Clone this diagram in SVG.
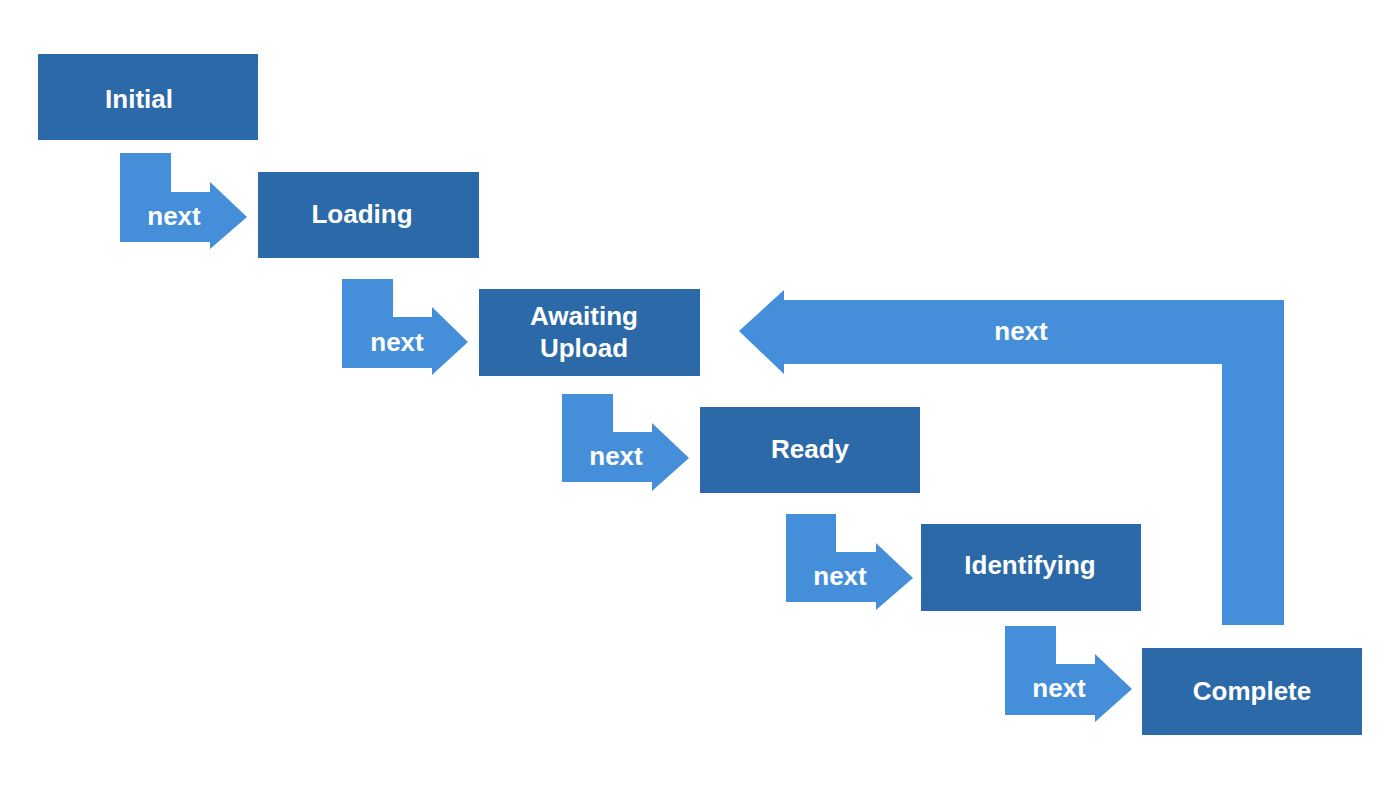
<svg xmlns="http://www.w3.org/2000/svg" width="1400" height="788" viewBox="0 0 1400 788">
<style>
.box{fill:#2B69A8}
.arr{fill:#448EDA}
.t{font-family:"Liberation Sans",Arial,sans-serif;font-weight:bold;font-size:26px;fill:#FFFFFF;text-anchor:middle}
</style>
<rect width="1400" height="788" fill="#FFFFFF"/>
<g id="connectors">
<g id="c1"><polygon class="arr" points="120,153 171,153 171,192 210,192 210,182 247,217 210,249 210,242 120,242"/><text class="t" x="174" y="225">next</text></g>
<g id="c2"><polygon class="arr" points="342,279 393,279 393,317 432,317 432,307 468,342 432,375 432,368 342,368"/><text class="t" x="397" y="351">next</text></g>
<g id="c3"><polygon class="arr" points="562,394 613,394 613,432 652,432 652,423 689,458 652,491 652,482 562,482"/><text class="t" x="616" y="465">next</text></g>
<g id="c4"><polygon class="arr" points="786,514 836,514 836,552 876,552 876,543 913,578 876,610 876,602 786,602"/><text class="t" x="840" y="585">next</text></g>
<g id="c5"><polygon class="arr" points="1005,626 1056,626 1056,664 1095,664 1095,654 1132,689 1095,722 1095,715 1005,715"/><text class="t" x="1059" y="697">next</text></g>
<g id="c6"><polygon class="arr" points="739,331 784,290 784,300 1284,300 1284,625 1222,625 1222,364 784,364 784,374"/><text class="t" x="1021" y="340">next</text></g>
</g>
<g id="initial"><rect class="box" x="38" y="54" width="220" height="86"/><text class="t" x="139" y="108">Initial</text></g>
<g id="loading"><rect class="box" x="258" y="172" width="221" height="86"/><text class="t" x="362" y="223">Loading</text></g>
<g id="awaiting-upload"><rect class="box" x="479" y="289" width="221" height="87"/><text class="t" x="584" y="325">Awaiting</text><text class="t" x="584" y="357">Upload</text></g>
<g id="ready"><rect class="box" x="700" y="407" width="220" height="86"/><text class="t" x="810" y="458">Ready</text></g>
<g id="identifying"><rect class="box" x="921" y="524" width="220" height="87"/><text class="t" x="1030" y="574">Identifying</text></g>
<g id="complete"><rect class="box" x="1142" y="648" width="220" height="87"/><text class="t" x="1252" y="700">Complete</text></g>
</svg>
